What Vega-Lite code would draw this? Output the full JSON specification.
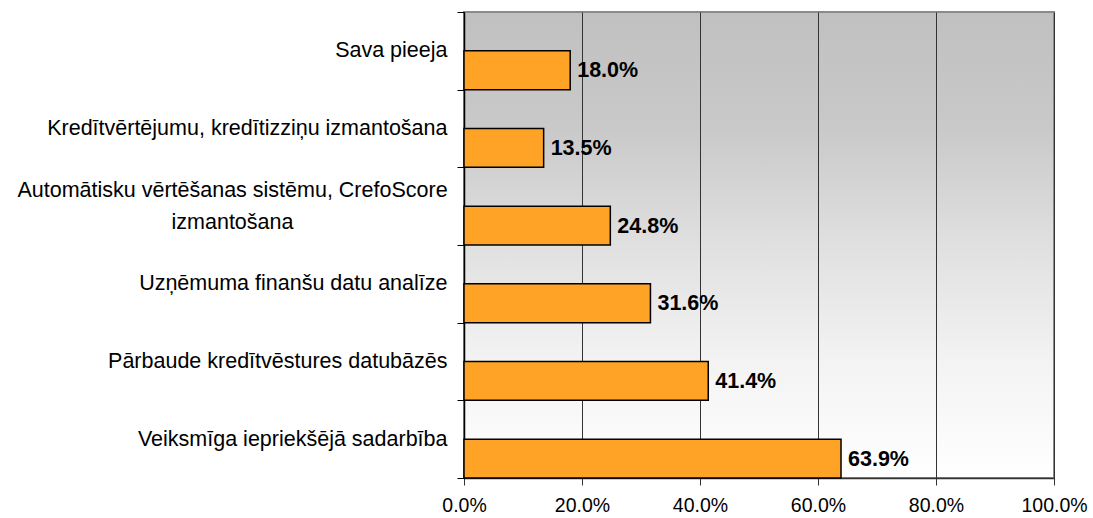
{
  "$schema": "https://vega.github.io/schema/vega-lite/v6.json",
  "width": 590,
  "height": 466,
  "autosize": "none",
  "padding": {"left": 464, "top": 12, "right": 39, "bottom": 40},
  "background": "white",
  "config": {
    "font": "Liberation Sans",
    "view": {
      "fill": {"gradient": "linear", "x1": 0, "y1": 0, "x2": 0, "y2": 1, "stops": [
        {"offset": 0, "color": "#c0c0c0"},
        {"offset": 0.25, "color": "#c9c9c9"},
        {"offset": 0.5, "color": "#e0e0e0"},
        {"offset": 0.75, "color": "#f3f3f3"},
        {"offset": 1, "color": "#ffffff"}
      ]},
      "stroke": "#8a8a8a",
      "strokeWidth": 2
    }
  },
  "data": {
    "values": [
      {"kategorija": "Sava pieeja", "vertiba": 0.18, "s": "b"},
      {"kategorija": "Kredītvērtējumu, kredītizziņu izmantošana", "vertiba": 0.135, "s": "b"},
      {"kategorija": "Automātisku vērtēšanas sistēmu, CrefoScore\nizmantošana", "vertiba": 0.248, "s": "b"},
      {"kategorija": "Uzņēmuma finanšu datu analīze", "vertiba": 0.316, "s": "b"},
      {"kategorija": "Pārbaude kredītvēstures datubāzēs", "vertiba": 0.414, "s": "b"},
      {"kategorija": "Veiksmīga iepriekšējā sadarbība", "vertiba": 0.639, "s": "b"}
    ]
  },
  "encoding": {
    "y": {
      "field": "kategorija",
      "type": "nominal",
      "sort": null,
      "scale": {"paddingInner": 0, "paddingOuter": 0},
      "axis": {
        "title": null,
        "labelFontSize": 21.5,
        "labelColor": "#000000",
        "labelLimit": 470,
        "labelLineHeight": 32,
        "labelExpr": "isValid(datum.value) ? split(datum.value, '\\n') : ''",
        "labelOffset": {"condition": {"test": "isValid(datum.value) && indexof(datum.value, '\\n') >= 0", "value": -16}, "value": 0},
        "labelAlign": {"condition": {"test": "isValid(datum.value) && indexof(datum.value, '\\n') >= 0", "value": "center"}, "value": "right"},
        "labelPadding": {"condition": {"test": "isValid(datum.value) && indexof(datum.value, '\\n') >= 0", "value": 225}, "value": 10},
        "tickBand": "extent",
        "tickColor": "#000000",
        "tickSize": 7,
        "domainColor": "#000000",
        "domainWidth": 1.5
      }
    },
    "yOffset": {"field": "s", "type": "nominal", "scale": {"domain": ["a", "b"], "paddingInner": 0, "paddingOuter": 0}}
  },
  "layer": [
    {
      "mark": {"type": "bar", "fill": "#ffa326", "stroke": "#000000", "strokeWidth": 1.5},
      "encoding": {
        "x": {
          "field": "vertiba",
          "type": "quantitative",
          "scale": {"domain": [0, 1], "nice": false},
          "axis": {
            "title": null,
            "format": ".1%",
            "values": [0, 0.2, 0.4, 0.6, 0.8, 1],
            "labelFontSize": 19.5,
            "labelColor": "#000000",
            "labelPadding": 11,
            "labelFlush": false,
            "tickColor": "#333333",
            "tickSize": 7,
            "domainColor": "#333333",
            "domainWidth": 1.5,
            "grid": true,
            "gridColor": "#333333",
            "gridWidth": 1
          }
        }
      }
    },
    {
      "mark": {"type": "text", "align": "left", "baseline": "middle", "dx": 7, "dy": 1, "fontSize": 21.5, "fontWeight": "bold", "color": "#000000"},
      "encoding": {
        "x": {"field": "vertiba", "type": "quantitative"},
        "text": {"field": "vertiba", "type": "quantitative", "format": ".1%"}
      }
    }
  ]
}
